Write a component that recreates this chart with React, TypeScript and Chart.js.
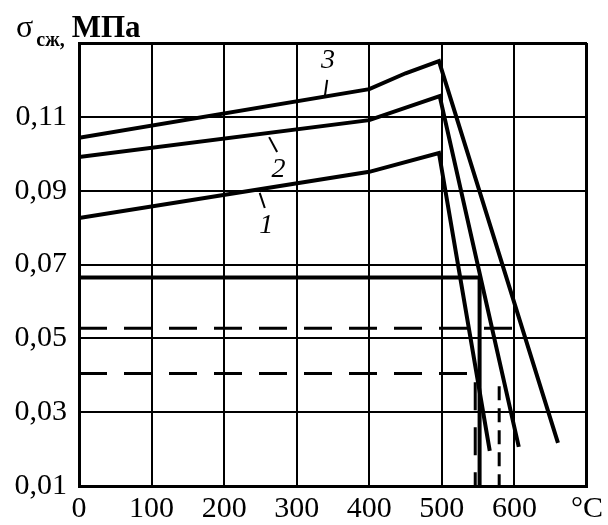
import React, { useEffect, useRef } from 'react';
import { Chart, registerables } from 'chart.js';

Chart.register(...registerables);

// ---- data ----
const xTickLabels = ['0', '100', '200', '300', '400', '500', '600', '°C'];
const yTickLabels = ['0,01', '0,03', '0,05', '0,07', '0,09', '0,11', ''];

const curve1X = [0, 400, 496, 566];
const curve1Y = [0.0826, 0.0951, 0.1002, 0.0195];
const curve2X = [0, 400, 497, 606];
const curve2Y = [0.0991, 0.1091, 0.1156, 0.0206];
const curve3X = [0, 400, 450, 496, 660];
const curve3Y = [0.1043, 0.1175, 0.1218, 0.1251, 0.0217];

const levelX = [0, 552, 552];
const levelY = [0.0665, 0.0665, 0.01];
const dashAX = [0, 612];
const dashAY = [0.0527, 0.0527];
const dashBX = [0, 546, 546];
const dashBY = [0.0405, 0.0405, 0.01];
const dashCX = [579, 579];
const dashCY = [0.037, 0.01];

const curveNames = ['1', '2', '3'];
const nameX = [258, 275, 343];
const nameY = [0.0805, 0.0958, 0.1252];
const leaderX0 = [249, 262, 342];
const leaderY0 = [0.0894, 0.1045, 0.12];
const leaderX1 = [256, 273, 339];
const leaderY1 = [0.0853, 0.1005, 0.1159];

const pts = (xs: number[], ys: number[]) => xs.map((x, i) => ({ x, y: ys[i] }));

const SERIF = '"Liberation Serif", "Times New Roman", serif';

const bgPlugin = {
  id: 'bg',
  beforeDraw(chart: any) {
    const { ctx, width, height } = chart;
    ctx.save();
    ctx.fillStyle = '#ffffff';
    ctx.fillRect(0, 0, width, height);
    ctx.restore();
  },
};

const annotPlugin = {
  id: 'annot',
  afterDatasetsDraw(chart: any) {
    const { ctx } = chart;
    const xs = chart.scales.x;
    const ys = chart.scales.y;
    ctx.save();
    ctx.strokeStyle = '#000';
    ctx.lineWidth = 2;
    ctx.fillStyle = '#000';
    ctx.font = `italic 28px ${SERIF}`;
    ctx.textAlign = 'center';
    ctx.textBaseline = 'middle';
    curveNames.forEach((n, i) => {
      ctx.beginPath();
      ctx.moveTo(xs.getPixelForValue(leaderX0[i]), ys.getPixelForValue(leaderY0[i]));
      ctx.lineTo(xs.getPixelForValue(leaderX1[i]), ys.getPixelForValue(leaderY1[i]));
      ctx.stroke();
      ctx.fillText(n, xs.getPixelForValue(nameX[i]), ys.getPixelForValue(nameY[i]));
    });
    ctx.restore();
  },
  afterDraw(chart: any) {
    const { ctx } = chart;
    ctx.save();
    ctx.fillStyle = '#000';
    ctx.textBaseline = 'alphabetic';
    ctx.textAlign = 'left';
    let x = 16;
    const base = 37;
    ctx.font = `32px ${SERIF}`;
    ctx.fillText('σ', x, base);
    x += ctx.measureText('σ').width + 3;
    ctx.font = `bold 20px ${SERIF}`;
    ctx.fillText('сж,', x, base + 9);
    x += ctx.measureText('сж,').width + 7;
    ctx.font = `bold 31px ${SERIF}`;
    ctx.fillText('МПа', x, base);
    ctx.restore();
  },
};

export default function App() {
  const ref = useRef<HTMLCanvasElement>(null);

  useEffect(() => {
    if (!ref.current) return;
    const solid = (xs: number[], ys: number[], w: number) => ({
      data: pts(xs, ys),
      borderColor: '#000',
      borderWidth: w,
      pointRadius: 0,
      showLine: true,
      tension: 0,
      fill: false,
    });
    const dashed = (xs: number[], ys: number[]) => ({
      ...solid(xs, ys, 3),
      borderDash: [28, 17],
    });
    const chart = new Chart(ref.current, {
      type: 'scatter',
      data: {
        datasets: [
          solid(curve1X, curve1Y, 4),
          solid(curve2X, curve2Y, 4),
          solid(curve3X, curve3Y, 4),
          solid(levelX, levelY, 4),
          dashed(dashAX, dashAY),
          dashed(dashBX, dashBY),
          { ...dashed(dashCX, dashCY), borderDash: [14, 8] },
        ] as any,
      },
      options: {
        animation: false,
        responsive: false,
        layout: { padding: { top: 43, right: 17, left: 0, bottom: 0 } },
        plugins: {
          legend: { display: false },
          tooltip: { enabled: false },
          title: { display: false },
        },
        scales: {
          x: {
            type: 'linear',
            min: 0,
            max: 700,
            ticks: {
              stepSize: 100,
              color: '#000',
              padding: 5,
              maxRotation: 0,
              font: { family: SERIF, size: 30 },
              callback: (_v: any, i: number) => xTickLabels[i],
            },
            grid: {
              color: '#000',
              lineWidth: (c: any) => (c.tick && c.tick.value === 700 ? 3 : 2),
              drawTicks: false,
            },
            border: { display: true, color: '#000', width: 3 },
            afterFit: (axis: any) => {
              axis.height = 39;
            },
          },
          y: {
            type: 'linear',
            min: 0.01,
            max: 0.13,
            ticks: {
              stepSize: 0.02,
              color: '#000',
              padding: 12,
              font: { family: SERIF, size: 30 },
              callback: (_v: any, i: number) => yTickLabels[i],
            },
            grid: {
              color: '#000',
              lineWidth: (c: any) => (c.tick && Math.abs(c.tick.value - 0.13) < 1e-6 ? 3 : 2),
              drawTicks: false,
            },
            border: { display: true, color: '#000', width: 3 },
            afterFit: (axis: any) => {
              axis.width = 79;
            },
          },
        },
      } as any,
      plugins: [bgPlugin, annotPlugin],
    });
    return () => chart.destroy();
  }, []);

  return (
    <div style={{ position: 'absolute', left: 0, top: 0, width: 608, height: 525 }}>
      <canvas ref={ref} width={608} height={525} style={{ display: 'block' }} />
    </div>
  );
}
